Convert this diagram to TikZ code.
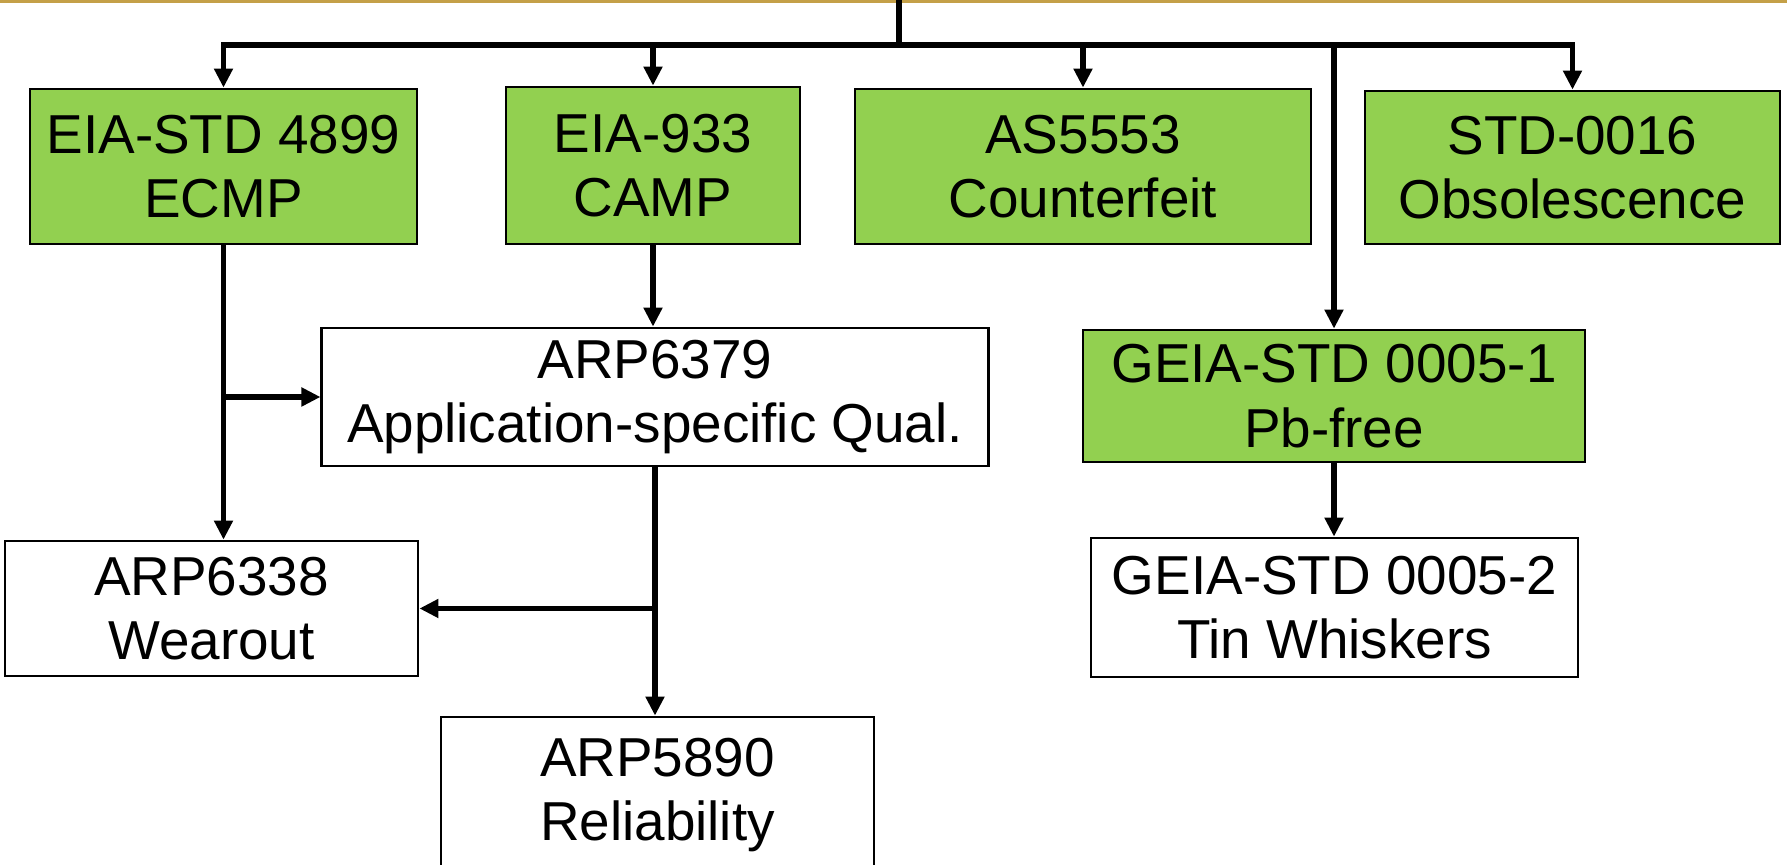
\documentclass[tikz,border=0pt]{standalone}
\usepackage{fontspec}
\setmainfont{Liberation Sans}
\usepackage{tikz}
\usetikzlibrary{arrows.meta,positioning}
\definecolor{StdGreen}{RGB}{146,208,80}
\definecolor{SlideGold}{RGB}{196,160,72}

\begin{document}
\begin{tikzpicture}[
  x=0.01cm,y=-0.01cm,
  >={Triangle[length=0.19cm,width=0.18cm]},
  box/.style={draw=black,fill=white,line width=0.75pt,inner sep=0pt,
              align=center,font=\fontsize{15.6}{18.4}\selectfont},
  gbox/.style={box,fill=StdGreen},
  link/.style={line width=1.6pt},
]
\useasboundingbox (0,0) rectangle (1787,865);
\draw[SlideGold,line width=0.9pt] (0,1.5) -- (1787,1.5);
\node[gbox,minimum width=3.87cm,minimum height=1.55cm] (ecmp) at (223.5,166.5) {EIA-STD 4899\\ECMP};
\node[gbox,minimum width=2.94cm,minimum height=1.57cm] (camp) at (653,165.5) {EIA-933\\CAMP};
\node[gbox,minimum width=4.56cm,minimum height=1.55cm] (cfeit) at (1083,166.5) {AS5553\\Counterfeit};
\node[gbox,minimum width=4.15cm,minimum height=1.53cm] (obsol) at (1572.5,167.5) {STD-0016\\Obsolescence};
\node[box,minimum width=6.66cm,minimum height=1.38cm] (qual) at (655,397) {ARP6379\\Application-specific Qual.};
\node[gbox,minimum width=5.02cm,minimum height=1.32cm] (pbfree) at (1334,396) {GEIA-STD 0005-1\\Pb-free};
\node[box,minimum width=4.13cm,minimum height=1.35cm] (wear) at (211.5,608.5) {ARP6338\\Wearout};
\node[box,minimum width=4.87cm,minimum height=1.39cm] (tin) at (1334.5,607.5) {GEIA-STD 0005-2\\Tin Whiskers};
\node[box,minimum width=4.33cm,minimum height=1.56cm] (rel) at (657.5,795) {ARP5890\\Reliability};
\coordinate (top) at (899,0);
\coordinate (hub) at (899,45);
\draw[link] (top) -- (hub);
\draw[link,->] (hub) -| (ecmp.north);
\draw[link,->] (hub) -| (camp.north);
\draw[link,->] (hub) -| (cfeit.north);
\draw[link,->] (hub) -| (obsol.north);
\draw[link,->] (hub) -| (pbfree.north);
\draw[link,->] (ecmp.south) -- (ecmp.south |- wear.north);
\draw[link,->] (ecmp.south |- qual.west) -- (qual.west);
\draw[link,->] (camp.south) -- (camp.south |- qual.north);
\draw[link,->] (qual.south) -- (qual.south |- rel.north);
\draw[link,->] (qual.south |- wear.east) -- (wear.east);
\draw[link,->] (pbfree.south) -- (pbfree.south |- tin.north);
\end{tikzpicture}
\end{document}
